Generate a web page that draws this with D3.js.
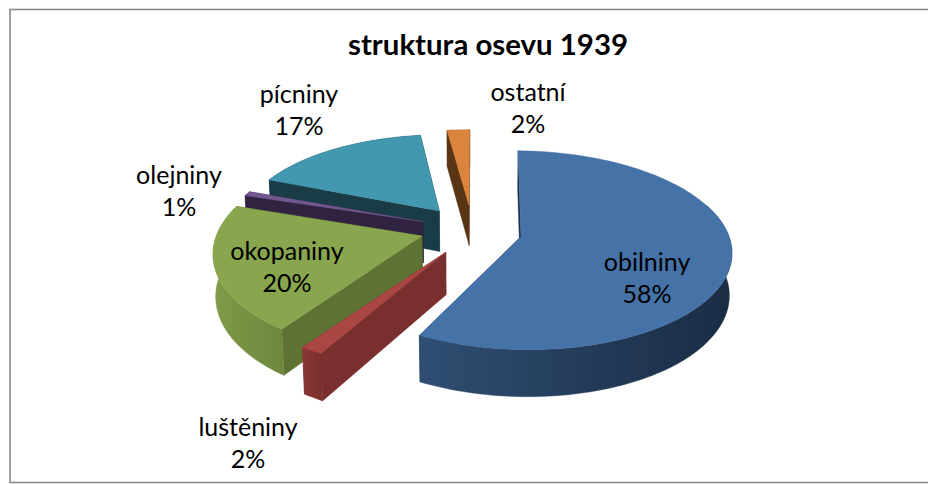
<!DOCTYPE html>
<html><head><meta charset="utf-8">
<style>html,body{margin:0;padding:0;background:#fff}svg{display:block}text{font-family:Lato,"Open Sans",sans-serif;fill:#000}</style>
<script src="https://cdn.jsdelivr.net/npm/d3@7/dist/d3.min.js"></script>
</head><body><svg id="c" width="928" height="484"></svg>
<script>
const title = "struktura osevu 1939";
const categories = ["obilniny","luštěniny","okopaniny","olejniny","pícniny","ostatní"];
const values = [57.2,1.9,20.8,0.8,17.1,2.1];
const percentLabels = ["58%","2%","20%","1%","17%","2%"];

// styling and layout, separate from the data
const topColors  = ["#4572A7","#AA4643","#89A54E","#71588F","#4198AF","#DB843D"];
const wallColors = ["#1b2e46","#782f2e","#5e7333","#30233f","#1a3c47","#5a3515"];
const rimFrom    = ["#2f4e72","#8a3735","#809b49","#30233f","#1a3c47","#5a3515"];
const rimTo      = ["#1a2c44","#7a302e","#6d873d","#30233f","#1a3c47","#5a3515"];
const explode = [0.211,0.235,0.2435,0.269,0.2875,0.29];
const radius  = [1,1,0.965,0.94,0.945,0.95];
const rimXScale = [0.975,1,1,1,1,1];
const rimYScale = [1,1,1.07,1,1,1];
const nudgeX  = [0.01,-0.018,-0.019,0.005,0.005,-0.01];
const nudgeY  = [0,0,0.04,0.02,0,0];
const startTweak = [0.8,3,2,0,1.5,0];
const endTweak   = [1,1.5,0,0,0,0];
const drawOrder = [5,4,3,2,1,0];
const labelPos = [[647,263],[248,428],[287,252],[179,176],[299,95],[528,93]];

const W=928,H=484,cx=475,cy=232,rx=212,ry=96.3,p=0.136,q=0.01,depth=42;
const sx=d3.scaleLinear().domain([-1,1]).range([cx-rx,cx+rx]);
const sy=d3.scaleLinear().domain([-1,1]).range([cy+ry,cy-ry]);
const project=(x,y,z)=>{const w=1+p*y+q*z;return [sx(x/w),sy(y/w)+depth*z/w];};
const rad=d=>d*Math.PI/180;

const svg=d3.select("#c");
const defs=svg.append("defs");
svg.append("rect").attr("width",W).attr("height",H).attr("fill","#fff");
svg.append("rect").attr("x",10).attr("y",9.5).attr("width",960).attr("height",473)
  .attr("fill","none").attr("stroke","#8c8c8c").attr("stroke-width",1.6);

const arcs=d3.pie().sort(null).startAngle(0).endAngle(2*Math.PI)(values);
const line=d3.line();
const gSl=svg.append("g");
drawOrder.forEach(i=>{
  const a=arcs[i],mid=(a.startAngle+a.endAngle)/2,e=explode[i],r=radius[i];
  const t0=a.startAngle+rad(startTweak[i]),t1=a.endAngle+rad(endTweak[i]);
  const ox=e*Math.sin(mid)+nudgeX[i],oy=e*Math.cos(mid)+nudgeY[i];
  const rim=(t,z)=>project(ox+r*rimXScale[i]*Math.sin(t),oy+r*rimYScale[i]*Math.cos(t),z);
  const apex=z=>project(ox,oy,z);
  const n=Math.max(4,Math.ceil((t1-t0)*40));
  const ts=d3.range(n+1).map(k=>t0+(t1-t0)*k/n);
  const g=gSl.append("g");
  const poly=(pts,fill)=>g.append("path").attr("d",line(pts)+"Z").attr("fill",fill).attr("stroke",fill).attr("stroke-width",0.4);
  poly([apex(0),rim(t0,0),rim(t0,1),apex(1)],wallColors[i]);
  poly([apex(0),rim(t1,0),rim(t1,1),apex(1)],wallColors[i]);
  const id="rim"+i;
  const xs=ts.map(t=>rim(t,0)[0]);
  const lg=defs.append("linearGradient").attr("id",id).attr("gradientUnits","userSpaceOnUse")
    .attr("x1",d3.min(xs)).attr("x2",d3.max(xs)).attr("y1",0).attr("y2",0);
  lg.append("stop").attr("offset",0).attr("stop-color",rimFrom[i]);
  lg.append("stop").attr("offset",1).attr("stop-color",rimTo[i]);
  const front=ts.filter(t=>Math.cos(t)+oy<0.3||i>=3);
  poly(front.map(t=>rim(t,0)).concat(front.slice().reverse().map(t=>rim(t,1))),`url(#${id})`);
  poly([apex(0)].concat(ts.map(t=>rim(t,0))),topColors[i]);
});
const gL=svg.append("g").attr("text-anchor","middle").attr("font-size",25);
categories.forEach((c,i)=>{
  gL.append("text").attr("x",labelPos[i][0]).attr("y",labelPos[i][1]+8).text(c);
  gL.append("text").attr("x",labelPos[i][0]).attr("y",labelPos[i][1]+40).text(percentLabels[i]);
});
svg.append("text").attr("x",488).attr("y",55).attr("text-anchor","middle")
  .attr("font-size",29.4).attr("font-weight",700).text(title);
</script></body></html>
